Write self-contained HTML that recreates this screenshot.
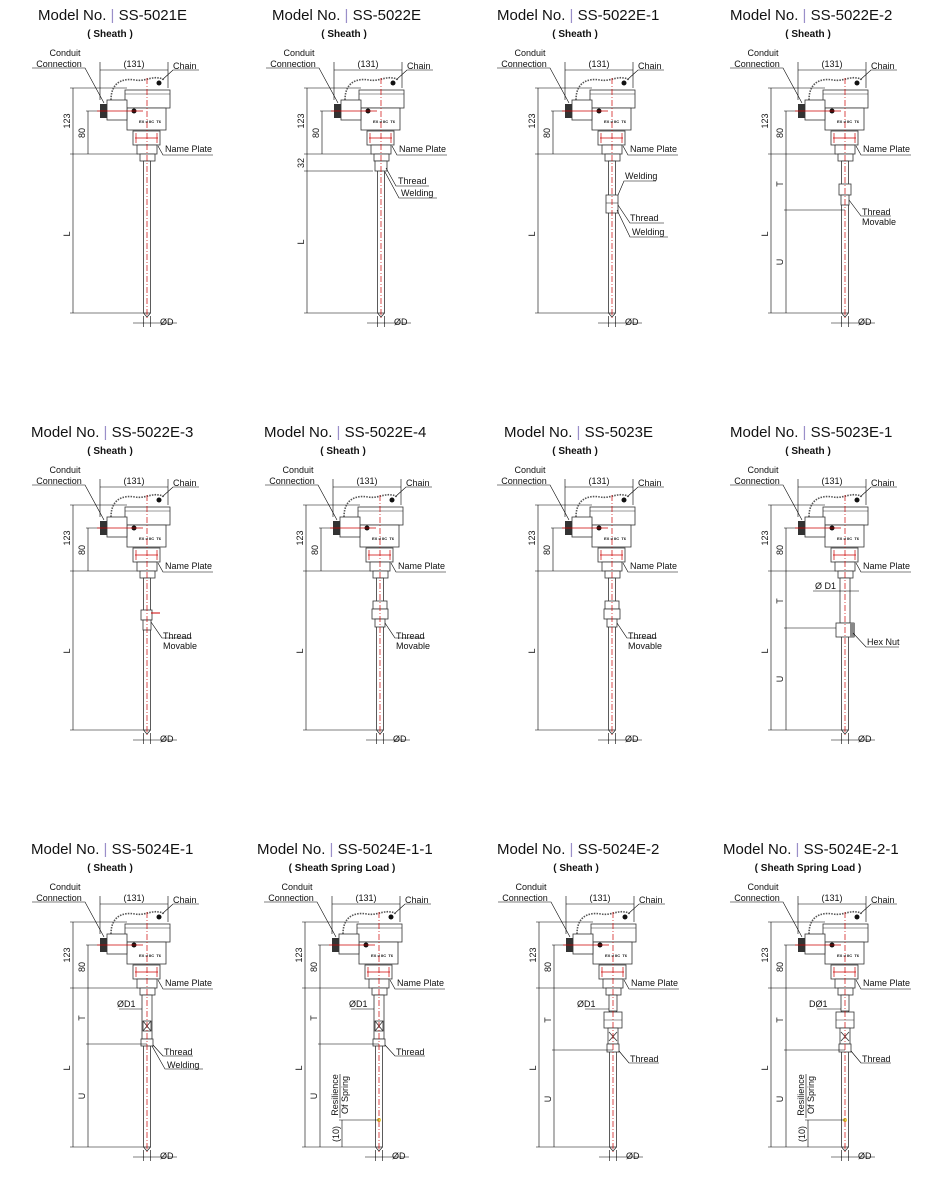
<!DOCTYPE html>
<html><head><meta charset="utf-8"><style>
html,body{margin:0;padding:0;background:#fff;}
svg{display:block;}
text{font-family:"Liberation Sans",sans-serif;fill:#111;}
.t{font-size:15px;}
.s{font-size:10px;font-weight:bold;}
.l{font-size:9px;}
.bar{fill:#9a8fc9;}
</style></head><body>
<svg width="942" height="1182" viewBox="0 0 942 1182" xmlns="http://www.w3.org/2000/svg">
<defs>
<g id="head">
 <g stroke="#000" stroke-width="0.6" fill="none">
  <line x1="-77" y1="88" x2="-20" y2="88"/>
  <line x1="-77" y1="154" x2="-9" y2="154"/>
  <line x1="-77" y1="313" x2="0" y2="313"/>
  <line x1="-74" y1="88" x2="-74" y2="313"/>
  <line x1="-59" y1="111" x2="-59" y2="154"/>
  <line x1="-61" y1="111" x2="-44" y2="111"/>
  <line x1="-47" y1="62" x2="-47" y2="100"/>
  <line x1="21" y1="62" x2="21" y2="88"/>
  <line x1="-47" y1="70" x2="21" y2="70"/>
  <polyline points="-115,68 -62,68 -43,103"/>
  <polyline points="52,70 26,70 15,80"/>
  <polyline points="11,146 16,155 66,155"/>
  <line x1="-3.5" y1="316" x2="-3.5" y2="327"/>
  <line x1="3.5" y1="316" x2="3.5" y2="327"/>
  <line x1="-14" y1="323" x2="30" y2="323"/>
 </g>
 <path d="M-36,100 C-36,82 -24,78 -12,80 S6,74 18,80" fill="none" stroke="#555" stroke-width="1.6" stroke-dasharray="1.5,1.2"/>
 <rect x="-22" y="90" width="45" height="18" fill="#fff" stroke="#333" stroke-width="0.8"/>
 <line x1="-22" y1="94" x2="23" y2="94" stroke="#333" stroke-width="0.6"/>
 <rect x="-20" y="108" width="39" height="22" fill="#fff" stroke="#333" stroke-width="0.8"/>
 <text x="-8" y="123" style="font-size:4px;font-weight:bold">EX d IIC&#160;&#160;T6</text>
 <rect x="-40" y="100" width="20" height="20" fill="#fff" stroke="#333" stroke-width="0.8"/>
 <rect x="-47" y="104" width="7" height="14" fill="#333"/>
 <circle cx="-13" cy="111" r="2.5" fill="#111"/>
 <circle cx="12" cy="83" r="2.5" fill="#111"/>
 <line x1="-50" y1="111" x2="-4" y2="111" stroke="#c00" stroke-width="0.7"/>
 <rect x="-14" y="131" width="27" height="14" fill="#fff" stroke="#333" stroke-width="0.8"/>
 <line x1="-12" y1="138" x2="11" y2="138" stroke="#c00" stroke-width="0.7"/>
 <line x1="-11" y1="133" x2="-11" y2="143" stroke="#c00" stroke-width="0.7"/>
 <line x1="10" y1="133" x2="10" y2="143" stroke="#c00" stroke-width="0.7"/>
 <rect x="-10" y="145" width="20" height="9" fill="#fff" stroke="#333" stroke-width="0.8"/>
 <rect x="-7" y="154" width="15" height="7" fill="#fff" stroke="#333" stroke-width="0.8"/>
</g>
<g id="sheath">
 <rect x="-3.5" y="161" width="7" height="152" fill="#fff" stroke="#333" stroke-width="0.8"/>
 <path d="M-3.5,313 L0,317 L3.5,313" fill="none" stroke="#333" stroke-width="0.8"/>
</g>
<g id="cl"><line x1="0" y1="78" x2="0" y2="320" stroke="#c00" stroke-width="0.7" stroke-dasharray="6,2,1,2"/></g>
<g id="tu" stroke="#000" stroke-width="0.6"><line x1="-59" y1="154" x2="-59" y2="313"/></g>
</defs>

<!-- ROW 1 -->
<g transform="translate(147,0)">
 <use href="#head"/><use href="#sheath"/><use href="#cl"/>
 <text class="t" x="-109" y="20">Model No. <tspan class="bar">|</tspan> SS-5021E</text>
 <text class="s" x="-37" y="37" text-anchor="middle">( Sheath )</text>
 <text class="l" x="-82" y="56" text-anchor="middle">Conduit</text>
 <text class="l" x="-88" y="67" text-anchor="middle">Connection</text>
 <text class="l" x="-13" y="67" text-anchor="middle">(131)</text>
 <text class="l" x="26" y="69">Chain</text>
 <text class="l" x="18" y="152">Name Plate</text>
 <text class="l" transform="translate(-77,121) rotate(-90)" text-anchor="middle">123</text>
 <text class="l" transform="translate(-62,133) rotate(-90)" text-anchor="middle">80</text>
 <text class="l" transform="translate(-77,234) rotate(-90)" text-anchor="middle">L</text>
 <text class="l" x="13" y="325">ØD</text>
</g>
<g transform="translate(381,0)">
 <use href="#head"/><use href="#sheath"/>
 <rect x="-6" y="161" width="12" height="10" fill="#fff" stroke="#333" stroke-width="0.8"/>
 <use href="#cl"/>
 <g stroke="#000" stroke-width="0.6" fill="none"><line x1="-77" y1="171" x2="-8" y2="171"/><polyline points="5,168 15,186 48,186"/><polyline points="4,172 18,198 56,198"/></g>
 <text class="t" x="-109" y="20">Model No. <tspan class="bar">|</tspan> SS-5022E</text>
 <text class="s" x="-37" y="37" text-anchor="middle">( Sheath )</text>
 <text class="l" x="-82" y="56" text-anchor="middle">Conduit</text>
 <text class="l" x="-88" y="67" text-anchor="middle">Connection</text>
 <text class="l" x="-13" y="67" text-anchor="middle">(131)</text>
 <text class="l" x="26" y="69">Chain</text>
 <text class="l" x="18" y="152">Name Plate</text>
 <text class="l" x="17" y="184">Thread</text>
 <text class="l" x="20" y="196">Welding</text>
 <text class="l" transform="translate(-77,121) rotate(-90)" text-anchor="middle">123</text>
 <text class="l" transform="translate(-62,133) rotate(-90)" text-anchor="middle">80</text>
 <text class="l" transform="translate(-77,163) rotate(-90)" text-anchor="middle">32</text>
 <text class="l" transform="translate(-77,242) rotate(-90)" text-anchor="middle">L</text>
 <text class="l" x="13" y="325">ØD</text>
</g>
<g transform="translate(612,0)">
 <use href="#head"/><use href="#sheath"/>
 <rect x="-6" y="195" width="12" height="18" fill="#fff" stroke="#333" stroke-width="0.8"/>
 <line x1="-6" y1="203" x2="6" y2="203" stroke="#333" stroke-width="0.6"/>
 <use href="#cl"/>
 <g stroke="#000" stroke-width="0.6" fill="none"><polyline points="6,195 12,181 44,181"/><polyline points="6,205 18,223 52,223"/><polyline points="5,210 18,237 56,237"/></g>
 <text class="t" x="-115" y="20">Model No. <tspan class="bar">|</tspan> SS-5022E-1</text>
 <text class="s" x="-37" y="37" text-anchor="middle">( Sheath )</text>
 <text class="l" x="-82" y="56" text-anchor="middle">Conduit</text>
 <text class="l" x="-88" y="67" text-anchor="middle">Connection</text>
 <text class="l" x="-13" y="67" text-anchor="middle">(131)</text>
 <text class="l" x="26" y="69">Chain</text>
 <text class="l" x="18" y="152">Name Plate</text>
 <text class="l" x="13" y="179">Welding</text>
 <text class="l" x="18" y="221">Thread</text>
 <text class="l" x="20" y="235">Welding</text>
 <text class="l" transform="translate(-77,121) rotate(-90)" text-anchor="middle">123</text>
 <text class="l" transform="translate(-62,133) rotate(-90)" text-anchor="middle">80</text>
 <text class="l" transform="translate(-77,234) rotate(-90)" text-anchor="middle">L</text>
 <text class="l" x="13" y="325">ØD</text>
</g>
<g transform="translate(845,0)">
 <use href="#head"/><use href="#tu"/><use href="#sheath"/>
 <rect x="-6" y="184" width="12" height="11" fill="#fff" stroke="#333" stroke-width="0.8"/>
 <rect x="-4" y="195" width="8" height="10" fill="#fff" stroke="#333" stroke-width="0.8"/>
 <use href="#cl"/>
 <g stroke="#000" stroke-width="0.6" fill="none"><line x1="-61" y1="210" x2="0" y2="210"/><polyline points="4,200 16,216 46,216"/></g>
 <text class="t" x="-115" y="20">Model No. <tspan class="bar">|</tspan> SS-5022E-2</text>
 <text class="s" x="-37" y="37" text-anchor="middle">( Sheath )</text>
 <text class="l" x="-82" y="56" text-anchor="middle">Conduit</text>
 <text class="l" x="-88" y="67" text-anchor="middle">Connection</text>
 <text class="l" x="-13" y="67" text-anchor="middle">(131)</text>
 <text class="l" x="26" y="69">Chain</text>
 <text class="l" x="18" y="152">Name Plate</text>
 <text class="l" x="17" y="215">Thread</text>
 <text class="l" x="17" y="225">Movable</text>
 <text class="l" transform="translate(-77,121) rotate(-90)" text-anchor="middle">123</text>
 <text class="l" transform="translate(-62,133) rotate(-90)" text-anchor="middle">80</text>
 <text class="l" transform="translate(-77,234) rotate(-90)" text-anchor="middle">L</text>
 <text class="l" transform="translate(-62,184) rotate(-90)" text-anchor="middle">T</text>
 <text class="l" transform="translate(-62,262) rotate(-90)" text-anchor="middle">U</text>
 <text class="l" x="13" y="325">ØD</text>
</g>

<!-- ROW 2 -->
<g transform="translate(147,417)">
 <use href="#head"/><use href="#sheath"/>
 <rect x="-6" y="193" width="11" height="10" fill="#fff" stroke="#333" stroke-width="0.8"/>
 <rect x="-4" y="203" width="8" height="10" fill="#fff" stroke="#333" stroke-width="0.8"/>
 <line x1="4" y1="196" x2="13" y2="196" stroke="#c00" stroke-width="1"/>
 <use href="#cl"/>
 <g stroke="#000" stroke-width="0.6" fill="none"><polyline points="4,205 15,221 45,221"/></g>
 <text class="t" x="-116" y="20">Model No. <tspan class="bar">|</tspan> SS-5022E-3</text>
 <text class="s" x="-37" y="37" text-anchor="middle">( Sheath )</text>
 <text class="l" x="-82" y="56" text-anchor="middle">Conduit</text>
 <text class="l" x="-88" y="67" text-anchor="middle">Connection</text>
 <text class="l" x="-13" y="67" text-anchor="middle">(131)</text>
 <text class="l" x="26" y="69">Chain</text>
 <text class="l" x="18" y="152">Name Plate</text>
 <text class="l" x="16" y="222">Thread</text>
 <text class="l" x="16" y="232">Movable</text>
 <text class="l" transform="translate(-77,121) rotate(-90)" text-anchor="middle">123</text>
 <text class="l" transform="translate(-62,133) rotate(-90)" text-anchor="middle">80</text>
 <text class="l" transform="translate(-77,234) rotate(-90)" text-anchor="middle">L</text>
 <text class="l" x="13" y="325">ØD</text>
</g>
<g transform="translate(380,417)">
 <use href="#head"/><use href="#sheath"/>
 <rect x="-7" y="184" width="14" height="8" fill="#fff" stroke="#333" stroke-width="0.8"/>
 <rect x="-8" y="192" width="16" height="10" fill="#fff" stroke="#333" stroke-width="0.8"/>
 <rect x="-5" y="202" width="10" height="8" fill="#fff" stroke="#333" stroke-width="0.8"/>
 <use href="#cl"/>
 <g stroke="#000" stroke-width="0.6" fill="none"><polyline points="5,206 15,221 45,221"/></g>
 <text class="t" x="-116" y="20">Model No. <tspan class="bar">|</tspan> SS-5022E-4</text>
 <text class="s" x="-37" y="37" text-anchor="middle">( Sheath )</text>
 <text class="l" x="-82" y="56" text-anchor="middle">Conduit</text>
 <text class="l" x="-88" y="67" text-anchor="middle">Connection</text>
 <text class="l" x="-13" y="67" text-anchor="middle">(131)</text>
 <text class="l" x="26" y="69">Chain</text>
 <text class="l" x="18" y="152">Name Plate</text>
 <text class="l" x="16" y="222">Thread</text>
 <text class="l" x="16" y="232">Movable</text>
 <text class="l" transform="translate(-77,121) rotate(-90)" text-anchor="middle">123</text>
 <text class="l" transform="translate(-62,133) rotate(-90)" text-anchor="middle">80</text>
 <text class="l" transform="translate(-77,234) rotate(-90)" text-anchor="middle">L</text>
 <text class="l" x="13" y="325">ØD</text>
</g>
<g transform="translate(612,417)">
 <use href="#head"/><use href="#sheath"/>
 <rect x="-7" y="184" width="14" height="8" fill="#fff" stroke="#333" stroke-width="0.8"/>
 <rect x="-8" y="192" width="16" height="10" fill="#fff" stroke="#333" stroke-width="0.8"/>
 <rect x="-5" y="202" width="10" height="8" fill="#fff" stroke="#333" stroke-width="0.8"/>
 <use href="#cl"/>
 <g stroke="#000" stroke-width="0.6" fill="none"><polyline points="5,206 15,221 45,221"/></g>
 <text class="t" x="-108" y="20">Model No. <tspan class="bar">|</tspan> SS-5023E</text>
 <text class="s" x="-37" y="37" text-anchor="middle">( Sheath )</text>
 <text class="l" x="-82" y="56" text-anchor="middle">Conduit</text>
 <text class="l" x="-88" y="67" text-anchor="middle">Connection</text>
 <text class="l" x="-13" y="67" text-anchor="middle">(131)</text>
 <text class="l" x="26" y="69">Chain</text>
 <text class="l" x="18" y="152">Name Plate</text>
 <text class="l" x="16" y="222">Thread</text>
 <text class="l" x="16" y="232">Movable</text>
 <text class="l" transform="translate(-77,121) rotate(-90)" text-anchor="middle">123</text>
 <text class="l" transform="translate(-62,133) rotate(-90)" text-anchor="middle">80</text>
 <text class="l" transform="translate(-77,234) rotate(-90)" text-anchor="middle">L</text>
 <text class="l" x="13" y="325">ØD</text>
</g>
<g transform="translate(845,417)">
 <use href="#head"/><use href="#tu"/><use href="#sheath"/>
 <rect x="-5" y="161" width="10" height="45" fill="#fff" stroke="#333" stroke-width="0.8"/>
 <rect x="-9" y="206" width="18" height="14" fill="#fff" stroke="#333" stroke-width="0.8"/>
 <rect x="5" y="206" width="5" height="14" fill="#888"/>
 <use href="#cl"/>
 <g stroke="#000" stroke-width="0.6" fill="none"><line x1="-61" y1="211" x2="-9" y2="211"/><line x1="-32" y1="174" x2="14" y2="174"/><polyline points="8,216 21,230 54,230"/></g>
 <text class="t" x="-115" y="20">Model No. <tspan class="bar">|</tspan> SS-5023E-1</text>
 <text class="s" x="-37" y="37" text-anchor="middle">( Sheath )</text>
 <text class="l" x="-82" y="56" text-anchor="middle">Conduit</text>
 <text class="l" x="-88" y="67" text-anchor="middle">Connection</text>
 <text class="l" x="-13" y="67" text-anchor="middle">(131)</text>
 <text class="l" x="26" y="69">Chain</text>
 <text class="l" x="18" y="152">Name Plate</text>
 <text class="l" x="-30" y="172">Ø D1</text>
 <text class="l" x="22" y="228">Hex Nut</text>
 <text class="l" transform="translate(-77,121) rotate(-90)" text-anchor="middle">123</text>
 <text class="l" transform="translate(-62,133) rotate(-90)" text-anchor="middle">80</text>
 <text class="l" transform="translate(-77,234) rotate(-90)" text-anchor="middle">L</text>
 <text class="l" transform="translate(-62,184) rotate(-90)" text-anchor="middle">T</text>
 <text class="l" transform="translate(-62,262) rotate(-90)" text-anchor="middle">U</text>
 <text class="l" x="13" y="325">ØD</text>
</g>

<!-- ROW 3 -->
<g transform="translate(147,834)">
 <use href="#head"/><use href="#tu"/><use href="#sheath"/>
 <rect x="-5" y="161" width="10" height="44" fill="#fff" stroke="#333" stroke-width="0.8"/>
 <rect x="-4" y="187" width="8" height="10" fill="#fff" stroke="#333" stroke-width="0.8"/>
 <path d="M-4,187 L4,197 M4,187 L-4,197" stroke="#333" stroke-width="0.8"/>
 <rect x="-6" y="205" width="12" height="7" fill="#fff" stroke="#333" stroke-width="0.8"/>
 <use href="#cl"/>
 <g stroke="#000" stroke-width="0.6" fill="none"><line x1="-61" y1="210" x2="0" y2="210"/><line x1="-28" y1="175" x2="-5" y2="175"/><polyline points="6,211 16,222 46,222"/><polyline points="5,212 18,235 56,235"/></g>
 <text class="t" x="-116" y="20">Model No. <tspan class="bar">|</tspan> SS-5024E-1</text>
 <text class="s" x="-37" y="37" text-anchor="middle">( Sheath )</text>
 <text class="l" x="-82" y="56" text-anchor="middle">Conduit</text>
 <text class="l" x="-88" y="67" text-anchor="middle">Connection</text>
 <text class="l" x="-13" y="67" text-anchor="middle">(131)</text>
 <text class="l" x="26" y="69">Chain</text>
 <text class="l" x="18" y="152">Name Plate</text>
 <text class="l" x="-30" y="173">ØD1</text>
 <text class="l" x="17" y="221">Thread</text>
 <text class="l" x="20" y="234">Welding</text>
 <text class="l" transform="translate(-77,121) rotate(-90)" text-anchor="middle">123</text>
 <text class="l" transform="translate(-62,133) rotate(-90)" text-anchor="middle">80</text>
 <text class="l" transform="translate(-77,234) rotate(-90)" text-anchor="middle">L</text>
 <text class="l" transform="translate(-62,184) rotate(-90)" text-anchor="middle">T</text>
 <text class="l" transform="translate(-62,262) rotate(-90)" text-anchor="middle">U</text>
 <text class="l" x="13" y="325">ØD</text>
</g>
<g transform="translate(379,834)">
 <use href="#head"/><use href="#tu"/><use href="#sheath"/>
 <rect x="-5" y="161" width="10" height="44" fill="#fff" stroke="#333" stroke-width="0.8"/>
 <rect x="-4" y="187" width="8" height="10" fill="#fff" stroke="#333" stroke-width="0.8"/>
 <path d="M-4,187 L4,197 M4,187 L-4,197" stroke="#333" stroke-width="0.8"/>
 <rect x="-6" y="205" width="12" height="7" fill="#fff" stroke="#333" stroke-width="0.8"/>
 <circle cx="0" cy="286" r="2" fill="#e8d040"/>
 <use href="#cl"/>
 <g stroke="#000" stroke-width="0.6" fill="none"><line x1="-61" y1="210" x2="0" y2="210"/><line x1="-28" y1="175" x2="-5" y2="175"/><polyline points="6,211 16,222 46,222"/><line x1="-40" y1="286" x2="0" y2="286"/><line x1="-37" y1="286" x2="-37" y2="313"/><line x1="-39" y1="240" x2="-39" y2="284"/></g>
 <text class="t" x="-122" y="20">Model No. <tspan class="bar">|</tspan> SS-5024E-1-1</text>
 <text class="s" x="-37" y="37" text-anchor="middle">( Sheath Spring Load )</text>
 <text class="l" x="-82" y="56" text-anchor="middle">Conduit</text>
 <text class="l" x="-88" y="67" text-anchor="middle">Connection</text>
 <text class="l" x="-13" y="67" text-anchor="middle">(131)</text>
 <text class="l" x="26" y="69">Chain</text>
 <text class="l" x="18" y="152">Name Plate</text>
 <text class="l" x="-30" y="173">ØD1</text>
 <text class="l" x="17" y="221">Thread</text>
 <text class="l" transform="translate(-41,261) rotate(-90)" text-anchor="middle">Resilience</text>
 <text class="l" transform="translate(-31,261) rotate(-90)" text-anchor="middle">Of Spring</text>
 <text class="l" transform="translate(-40,300) rotate(-90)" text-anchor="middle">(10)</text>
 <text class="l" transform="translate(-77,234) rotate(-90)" text-anchor="middle">L</text>
 <text class="l" transform="translate(-77,121) rotate(-90)" text-anchor="middle">123</text>
 <text class="l" transform="translate(-62,133) rotate(-90)" text-anchor="middle">80</text>
 <text class="l" transform="translate(-62,184) rotate(-90)" text-anchor="middle">T</text>
 <text class="l" transform="translate(-62,262) rotate(-90)" text-anchor="middle">U</text>
 <text class="l" x="13" y="325">ØD</text>
</g>
<g transform="translate(613,834)">
 <use href="#head"/><use href="#tu"/><use href="#sheath"/>
 <rect x="-4" y="161" width="8" height="16" fill="#fff" stroke="#333" stroke-width="0.8"/>
 <rect x="-9" y="178" width="18" height="16" fill="#fff" stroke="#333" stroke-width="0.8"/>
 <line x1="-9" y1="186" x2="9" y2="186" stroke="#333" stroke-width="0.6"/>
 <rect x="-5" y="194" width="10" height="16" fill="#fff" stroke="#333" stroke-width="0.8"/>
 <path d="M-4,198 L4,207 M4,198 L-4,207" stroke="#333" stroke-width="0.8"/>
 <rect x="-6" y="210" width="12" height="8" fill="#fff" stroke="#333" stroke-width="0.8"/>
 <use href="#cl"/>
 <g stroke="#000" stroke-width="0.6" fill="none"><line x1="-61" y1="216" x2="0" y2="216"/><line x1="-28" y1="175" x2="-4" y2="175"/><polyline points="6,217 16,229 46,229"/></g>
 <text class="t" x="-116" y="20">Model No. <tspan class="bar">|</tspan> SS-5024E-2</text>
 <text class="s" x="-37" y="37" text-anchor="middle">( Sheath )</text>
 <text class="l" x="-82" y="56" text-anchor="middle">Conduit</text>
 <text class="l" x="-88" y="67" text-anchor="middle">Connection</text>
 <text class="l" x="-13" y="67" text-anchor="middle">(131)</text>
 <text class="l" x="26" y="69">Chain</text>
 <text class="l" x="18" y="152">Name Plate</text>
 <text class="l" x="-36" y="173">ØD1</text>
 <text class="l" x="17" y="228">Thread</text>
 <text class="l" transform="translate(-77,121) rotate(-90)" text-anchor="middle">123</text>
 <text class="l" transform="translate(-62,133) rotate(-90)" text-anchor="middle">80</text>
 <text class="l" transform="translate(-77,234) rotate(-90)" text-anchor="middle">L</text>
 <text class="l" transform="translate(-62,186) rotate(-90)" text-anchor="middle">T</text>
 <text class="l" transform="translate(-62,265) rotate(-90)" text-anchor="middle">U</text>
 <text class="l" x="13" y="325">ØD</text>
</g>
<g transform="translate(845,834)">
 <use href="#head"/><use href="#tu"/><use href="#sheath"/>
 <rect x="-4" y="161" width="8" height="16" fill="#fff" stroke="#333" stroke-width="0.8"/>
 <rect x="-9" y="178" width="18" height="16" fill="#fff" stroke="#333" stroke-width="0.8"/>
 <line x1="-9" y1="186" x2="9" y2="186" stroke="#333" stroke-width="0.6"/>
 <rect x="-5" y="194" width="10" height="16" fill="#fff" stroke="#333" stroke-width="0.8"/>
 <path d="M-4,198 L4,207 M4,198 L-4,207" stroke="#333" stroke-width="0.8"/>
 <rect x="-6" y="210" width="12" height="8" fill="#fff" stroke="#333" stroke-width="0.8"/>
 <circle cx="0" cy="286" r="2" fill="#e8d040"/>
 <use href="#cl"/>
 <g stroke="#000" stroke-width="0.6" fill="none"><line x1="-61" y1="216" x2="0" y2="216"/><line x1="-28" y1="175" x2="-4" y2="175"/><polyline points="6,217 16,229 46,229"/><line x1="-40" y1="286" x2="0" y2="286"/><line x1="-37" y1="286" x2="-37" y2="313"/><line x1="-39" y1="240" x2="-39" y2="284"/></g>
 <text class="t" x="-122" y="20">Model No. <tspan class="bar">|</tspan> SS-5024E-2-1</text>
 <text class="s" x="-37" y="37" text-anchor="middle">( Sheath Spring Load )</text>
 <text class="l" x="-82" y="56" text-anchor="middle">Conduit</text>
 <text class="l" x="-88" y="67" text-anchor="middle">Connection</text>
 <text class="l" x="-13" y="67" text-anchor="middle">(131)</text>
 <text class="l" x="26" y="69">Chain</text>
 <text class="l" x="18" y="152">Name Plate</text>
 <text class="l" x="-36" y="173">DØ1</text>
 <text class="l" x="17" y="228">Thread</text>
 <text class="l" transform="translate(-41,261) rotate(-90)" text-anchor="middle">Resilience</text>
 <text class="l" transform="translate(-31,261) rotate(-90)" text-anchor="middle">Of Spring</text>
 <text class="l" transform="translate(-40,300) rotate(-90)" text-anchor="middle">(10)</text>
 <text class="l" transform="translate(-77,121) rotate(-90)" text-anchor="middle">123</text>
 <text class="l" transform="translate(-62,133) rotate(-90)" text-anchor="middle">80</text>
 <text class="l" transform="translate(-77,234) rotate(-90)" text-anchor="middle">L</text>
 <text class="l" transform="translate(-62,186) rotate(-90)" text-anchor="middle">T</text>
 <text class="l" transform="translate(-62,265) rotate(-90)" text-anchor="middle">U</text>
 <text class="l" x="13" y="325">ØD</text>
</g>
</svg>
</body></html>
